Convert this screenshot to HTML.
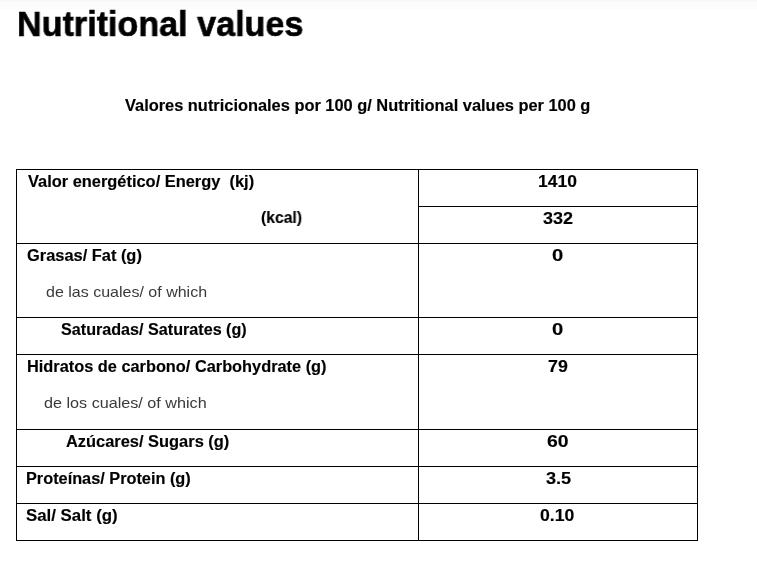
<!DOCTYPE html>
<html><head><meta charset="utf-8"><style>
html,body{margin:0;padding:0;background:#fff;width:757px;height:562px;overflow:hidden;position:relative}
body{font-family:"Liberation Sans",sans-serif}
.t{position:absolute;white-space:pre;line-height:1;transform-origin:0 0;will-change:transform}
.h{position:absolute;height:1px;background:#000}
.v{position:absolute;width:1px;background:#000}
.band{position:absolute;left:0;top:0;width:757px;height:9px;background:#fcfcfc}
.band2{position:absolute;left:0;top:0;width:757px;height:2px;background:#f8f8f8}
</style></head><body>
<div class="band"></div><div class="band2"></div>

<div class="h" style="left:16px;top:169px;width:682px"></div>
<div class="h" style="left:418px;top:206px;width:280px"></div>
<div class="h" style="left:16px;top:243px;width:682px"></div>
<div class="h" style="left:16px;top:317px;width:682px"></div>
<div class="h" style="left:16px;top:354px;width:682px"></div>
<div class="h" style="left:16px;top:429px;width:682px"></div>
<div class="h" style="left:16px;top:466px;width:682px"></div>
<div class="h" style="left:16px;top:503px;width:682px"></div>
<div class="h" style="left:16px;top:540px;width:682px"></div>
<div class="v" style="left:16px;top:169px;height:372px"></div>
<div class="v" style="left:418px;top:169px;height:372px"></div>
<div class="v" style="left:697px;top:169px;height:372px"></div>

<div class="t" style="left:16.56px;top:6.38px;font-size:35px;font-weight:bold;color:#000;transform:scaleX(0.9750);-webkit-text-stroke:0.6px #000">Nutritional values</div>
<div class="t" style="left:124.84px;top:98.46px;font-size:16px;font-weight:bold;color:#000;transform:scaleX(1.0242);-webkit-text-stroke:0.15px #000">Valores nutricionales por 100 g/ Nutritional values per 100 g</div>
<div class="t" style="left:27.73px;top:174.46px;font-size:16px;font-weight:bold;color:#000;transform:scaleX(1.0253);-webkit-text-stroke:0.15px #000">Valor energético/ Energy  (kj)</div>
<div class="t" style="left:261.21px;top:210.46px;font-size:16px;font-weight:bold;color:#000;transform:scaleX(0.9804);-webkit-text-stroke:0.15px #000">(kcal)</div>
<div class="t" style="left:26.65px;top:248.46px;font-size:16px;font-weight:bold;color:#000;transform:scaleX(1.0251);-webkit-text-stroke:0.15px #000">Grasas/ Fat (g)</div>
<div class="t" style="left:45.57px;top:284.31px;font-size:15px;font-weight:normal;color:#3a3a3a;transform:scaleX(1.0674)">de las cuales/ of which</div>
<div class="t" style="left:60.90px;top:322.46px;font-size:16px;font-weight:bold;color:#000;transform:scaleX(1.0091);-webkit-text-stroke:0.15px #000">Saturadas/ Saturates (g)</div>
<div class="t" style="left:26.93px;top:359.46px;font-size:16px;font-weight:bold;color:#000;transform:scaleX(1.0209);-webkit-text-stroke:0.15px #000">Hidratos de carbono/ Carbohydrate (g)</div>
<div class="t" style="left:44.43px;top:395.31px;font-size:15px;font-weight:normal;color:#3a3a3a;transform:scaleX(1.0778)">de los cuales/ of which</div>
<div class="t" style="left:65.73px;top:434.46px;font-size:16px;font-weight:bold;color:#000;transform:scaleX(1.0260);-webkit-text-stroke:0.15px #000">Azúcares/ Sugars (g)</div>
<div class="t" style="left:26.24px;top:471.46px;font-size:16px;font-weight:bold;color:#000;transform:scaleX(1.0179);-webkit-text-stroke:0.15px #000">Proteínas/ Protein (g)</div>
<div class="t" style="left:26.31px;top:508.46px;font-size:16px;font-weight:bold;color:#000;transform:scaleX(1.0518);-webkit-text-stroke:0.15px #000">Sal/ Salt (g)</div>
<div class="t" style="left:538.05px;top:174.46px;font-size:16px;font-weight:bold;color:#000;transform:scaleX(1.0928);-webkit-text-stroke:0.15px #000">1410</div>
<div class="t" style="left:543.24px;top:211.46px;font-size:16px;font-weight:bold;color:#000;transform:scaleX(1.1239);-webkit-text-stroke:0.15px #000">332</div>
<div class="t" style="left:552.48px;top:248.46px;font-size:16px;font-weight:bold;color:#000;transform:scaleX(1.2636);-webkit-text-stroke:0.15px #000">0</div>
<div class="t" style="left:552.48px;top:322.46px;font-size:16px;font-weight:bold;color:#000;transform:scaleX(1.2636);-webkit-text-stroke:0.15px #000">0</div>
<div class="t" style="left:547.59px;top:359.46px;font-size:16px;font-weight:bold;color:#000;transform:scaleX(1.1119);-webkit-text-stroke:0.15px #000">79</div>
<div class="t" style="left:546.95px;top:434.46px;font-size:16px;font-weight:bold;color:#000;transform:scaleX(1.2118);-webkit-text-stroke:0.15px #000">60</div>
<div class="t" style="left:545.81px;top:471.46px;font-size:16px;font-weight:bold;color:#000;transform:scaleX(1.1305);-webkit-text-stroke:0.15px #000">3.5</div>
<div class="t" style="left:539.89px;top:508.46px;font-size:16px;font-weight:bold;color:#000;transform:scaleX(1.1028);-webkit-text-stroke:0.15px #000">0.10</div>
</body></html>
